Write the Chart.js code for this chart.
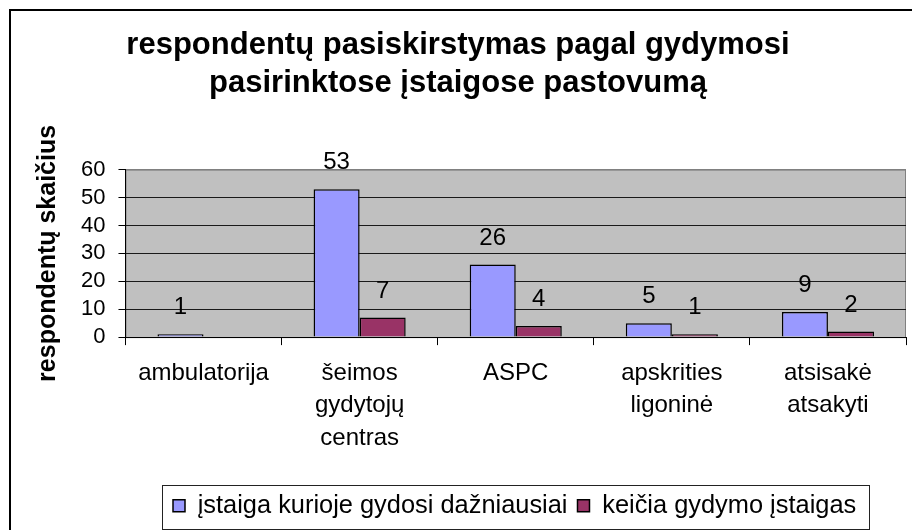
<!DOCTYPE html>
<html>
<head>
<meta charset="utf-8">
<script src="https://cdn.jsdelivr.net/npm/chart.js@4/dist/chart.umd.min.js"></script>
<style>
  html, body { margin: 0; padding: 0; background: #fff; }
</style>
</head>
<body>
<canvas id="chart" width="912" height="530"></canvas>
<script>
var categories = ['ambulatorija', ['šeimos', 'gydytojų', 'centras'], 'ASPC', ['apskrities', 'ligoninė'], ['atsisakė', 'atsakyti']];
var seriesNames = ['įstaiga kurioje gydosi dažniausiai', 'keičia gydymo įstaigas'];
var oftenValues = [1, 53, 26, 5, 9];
var changeValues = [null, 7, 4, 1, 2];
var yTicks = [0, 10, 20, 30, 40, 50, 60];

Chart.defaults.font.family = '"Liberation Sans", Arial, sans-serif';
Chart.defaults.color = '#000';

// white page, excel style frame and grey plot area
var backdrop = {
  id: 'backdrop',
  beforeDraw: function (chart) {
    var ctx = chart.ctx, a = chart.chartArea;
    ctx.save();
    ctx.fillStyle = '#fff';
    ctx.fillRect(0, 0, chart.width, chart.height);
    ctx.fillStyle = '#000';
    ctx.fillRect(9, 9, chart.width, 2);
    ctx.fillRect(9, 9, 2, chart.height);
    ctx.fillStyle = '#c0c0c0';
    ctx.fillRect(a.left, a.top, a.right - a.left, a.bottom - a.top);
    ctx.strokeStyle = '#808080';
    ctx.lineWidth = 1;
    ctx.strokeRect(a.left + 0.5, a.top + 0.5, a.right - a.left - 1, a.bottom - a.top);
    ctx.restore();
  }
};

// value above each bar
var barValues = {
  id: 'barValues',
  afterDatasetsDraw: function (chart) {
    var ctx = chart.ctx;
    ctx.save();
    ctx.font = '24px "Liberation Sans", Arial, sans-serif';
    ctx.fillStyle = '#000';
    ctx.textAlign = 'center';
    ctx.textBaseline = 'alphabetic';
    chart.data.datasets.forEach(function (ds, i) {
      chart.getDatasetMeta(i).data.forEach(function (bar, j) {
        if (ds.data[j] == null) return;
        ctx.fillText(ds.data[j], bar.x, bar.y - 20);
      });
    });
    ctx.restore();
  }
};

// legend sits in its own box under the axis
var legendBox = {
  id: 'legendBox',
  afterLayout: function (chart) {
    var lg = chart.legend;
    lg.left = 163;
    lg.right = lg.left + lg.width;
    lg.top = 483;
    lg.bottom = lg.top + lg.height;
  },
  afterDraw: function (chart) {
    var hb = chart.legend.legendHitBoxes;
    if (!hb.length) return;
    var last = hb[hb.length - 1];
    var yc = hb[0].top + hb[0].height / 2;
    var x0 = hb[0].left - 11, x1 = last.left + last.width + 13;
    var ctx = chart.ctx;
    ctx.save();
    ctx.strokeStyle = '#222';
    ctx.lineWidth = 1;
    ctx.strokeRect(Math.round(x0) + 0.5, Math.round(yc - 21) + 0.5, Math.round(x1 - x0), 44);
    ctx.restore();
  }
};

new Chart(document.getElementById('chart'), {
  type: 'bar',
  data: {
    labels: categories,
    datasets: [{
      label: seriesNames[0],
      data: oftenValues,
      backgroundColor: '#9999ff',
      borderColor: '#000',
      borderWidth: 1.5
    }, {
      label: seriesNames[1],
      data: changeValues,
      backgroundColor: '#993366',
      borderColor: '#000',
      borderWidth: 1.5
    }]
  },
  options: {
    responsive: false,
    animation: false,
    categoryPercentage: 0.59,
    barPercentage: 1,
    layout: { padding: { top: 10, left: 10, right: 6, bottom: 18 } },
    plugins: {
      title: {
        display: true,
        text: ['respondentų pasiskirstymas pagal gydymosi', 'pasirinktose įstaigose pastovumą'],
        font: { size: 31, weight: 'bold', lineHeight: 1.22 },
        color: '#000',
        padding: { top: 17, bottom: 67 }
      },
      legend: {
        position: 'bottom',
        align: 'start',
        labels: {
          font: { size: 25.4 },
          color: '#000',
          boxWidth: 12,
          boxHeight: 12,
          padding: 10
        }
      },
      tooltip: { enabled: false }
    },
    scales: {
      x: {
        grid: { drawOnChartArea: false, drawTicks: true, tickLength: 8, color: '#000', offset: true },
        border: { color: '#000', width: 1 },
        ticks: { font: { size: 24, lineHeight: 1.354 }, padding: 12, maxRotation: 0, autoSkip: false, color: '#000' }
      },
      y: {
        min: 0,
        max: 60,
        afterBuildTicks: function (axis) {
          axis.ticks = yTicks.map(function (v) { return { value: v }; });
        },
        grid: {
          color: function (c) { return c.tick && c.tick.value === 60 ? '#808080' : '#1a1a1a'; },
          tickColor: '#000',
          tickLength: 7
        },
        border: { color: '#000', width: 1 },
        ticks: { font: { size: 22 }, padding: 13, color: '#000', autoSkip: false },
        title: {
          display: true,
          text: 'respondentų skaičius',
          font: { size: 25, weight: 'bold', lineHeight: 1.2 },
          color: '#000',
          padding: { top: 23, bottom: 5 }
        }
      }
    }
  },
  plugins: [backdrop, barValues, legendBox]
});
</script>
</body>
</html>
